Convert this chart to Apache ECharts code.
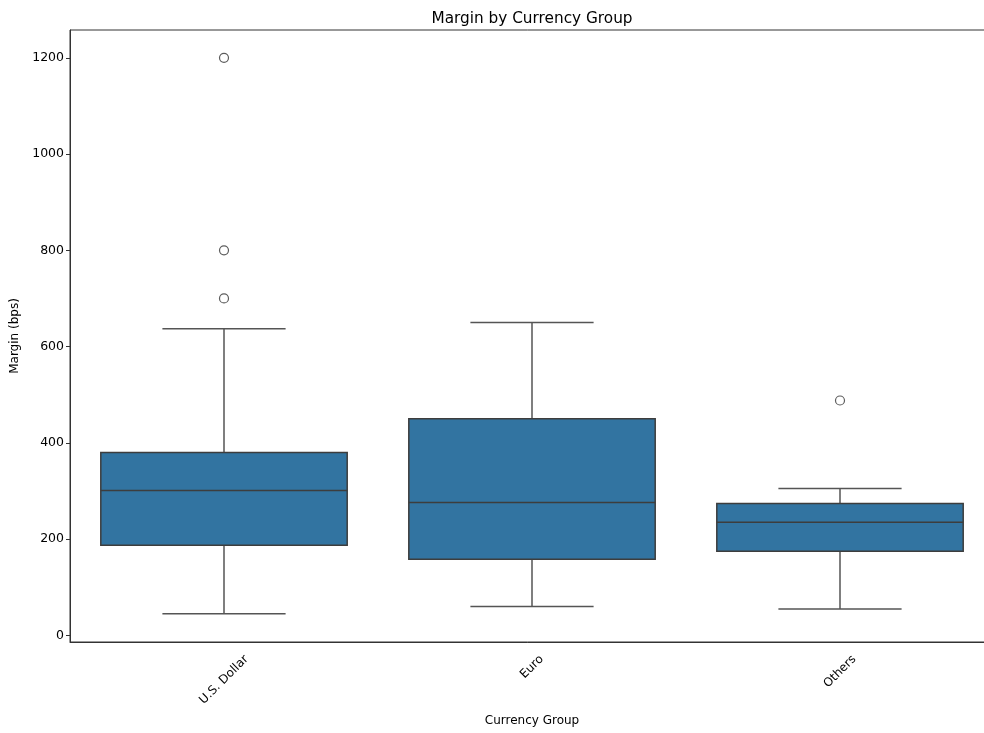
<!DOCTYPE html>
<html>
<head>
<meta charset="utf-8">
<script src="https://cdn.jsdelivr.net/npm/echarts@6/dist/echarts.min.js"></script>
<style>
html,body{margin:0;padding:0;background:#fff;}
#chart{width:984px;height:733px;}
</style>
</head>
<body>
<div id="chart"></div>
<script>
// ---- data ----
const categories = ['U.S. Dollar', 'Euro', 'Others'];
const whiskerLow = [45, 60, 55];
const q1 = [187, 158, 175];
const median = [301, 276, 235];
const q3 = [380, 450, 274];
const whiskerHigh = [637, 650, 305];
const outlierCategory = [0, 0, 0, 2];
const outlierValue = [700, 800, 1200, 488];
const yTicks = [0, 200, 400, 600, 800, 1000, 1200];

// ---- build ----
const boxData = categories.map((c, i) => [i, whiskerLow[i], q1[i], median[i], q3[i], whiskerHigh[i]]);
const outlierData = outlierCategory.map((c, i) => [c, outlierValue[i]]);

const FONT = 'DejaVu Sans';
const labelFontSize = 12;
const ctx = document.createElement('canvas').getContext('2d');
ctx.font = labelFontSize + 'px "' + FONT + '"';
const widths = categories.map(c => ctx.measureText(c).width);
const minW = Math.min.apply(null, widths);
const rich = {};
categories.forEach((c, i) => {
  const d = 0.3536 * (widths[i] - minW); // vertical shift needed
  const p = 1.4142 * d;
  rich['l' + i] = {
    fontFamily: FONT, fontSize: labelFontSize, color: '#000',
    padding: [p, p, 0, 0]
  };
});

const chart = echarts.init(document.getElementById('chart'), null, {renderer: 'canvas'});

function renderBox(params, api) {
  const x = api.value(0);
  const lo = api.coord([x, api.value(1)]);
  const b1 = api.coord([x, api.value(2)]);
  const med = api.coord([x, api.value(3)]);
  const b3 = api.coord([x, api.value(4)]);
  const hi = api.coord([x, api.value(5)]);
  const band = api.size([1, 0])[0];
  const bw = band * 0.8;
  const cw = band * 0.4;
  const cx = lo[0];
  const lineColor = '#555555';
  const lw = 1.5;
  return {
    type: 'group',
    children: [
      {type: 'line', shape: {x1: cx, y1: b1[1], x2: cx, y2: lo[1]}, style: {stroke: lineColor, lineWidth: lw}},
      {type: 'line', shape: {x1: cx, y1: b3[1], x2: cx, y2: hi[1]}, style: {stroke: lineColor, lineWidth: lw}},
      {type: 'line', shape: {x1: cx - cw / 2, y1: lo[1], x2: cx + cw / 2, y2: lo[1]}, style: {stroke: lineColor, lineWidth: lw}},
      {type: 'line', shape: {x1: cx - cw / 2, y1: hi[1], x2: cx + cw / 2, y2: hi[1]}, style: {stroke: lineColor, lineWidth: lw}},
      {type: 'rect', shape: {x: cx - bw / 2, y: b3[1], width: bw, height: b1[1] - b3[1]},
        style: {fill: '#3274a1', stroke: '#3d3d3d', lineWidth: lw}},
      {type: 'line', shape: {x1: cx - bw / 2, y1: med[1], x2: cx + bw / 2, y2: med[1]}, style: {stroke: '#3d3d3d', lineWidth: lw}}
    ]
  };
}

const option = {
  backgroundColor: '#fff',
  animation: false,
  title: {
    text: 'Margin by Currency Group',
    left: 527, top: 7, textAlign: 'center',
    textStyle: {fontFamily: FONT, fontSize: 15.3, fontWeight: 'normal', color: '#000'}
  },
  grid: {left: 70, top: 30, right: -10, bottom: 91, outerBoundsMode: 'none', containLabel: false,
    show: true, borderColor: '#333', borderWidth: 1, backgroundColor: 'transparent'},
  xAxis: {
    type: 'category',
    data: categories,
    name: 'Currency Group',
    nameLocation: 'middle',
    nameGap: 73,
    nameTextStyle: {fontFamily: FONT, fontSize: 12, color: '#000'},
    axisLine: {onZero: false, lineStyle: {color: '#333', width: 1}},
    axisTick: {alignWithLabel: true, length: 4, lineStyle: {color: '#333'}},
    splitLine: {show: false},
    axisLabel: {
      rotate: 45, interval: 0, align: 'center', verticalAlign: 'middle',
      margin: 25,
      fontFamily: FONT, fontSize: labelFontSize, color: '#000',
      formatter: function (v) {
        const i = categories.indexOf(v);
        return '{l' + i + '|' + v + '}';
      },
      rich: rich
    }
  },
  yAxis: {
    type: 'value',
    min: -13.8, max: 1257.8,
    name: 'Margin (bps)',
    nameLocation: 'middle',
    nameGap: 47,
    nameTextStyle: {fontFamily: FONT, fontSize: 12, color: '#000'},
    axisLine: {show: true, onZero: false, lineStyle: {color: '#333', width: 1}},
    axisTick: {show: true, length: 4, lineStyle: {color: '#333'}, customValues: yTicks},
    axisLabel: {fontFamily: FONT, fontSize: 12.5, color: '#000', margin: 6, customValues: yTicks,
      formatter: function (v) { return String(v); }},
    splitLine: {show: false}
  },
  series: [
    {
      type: 'custom',
      renderItem: renderBox,
      data: boxData,
      encode: {x: 0, y: [1, 2, 3, 4, 5]},
      z: 2
    },
    {
      type: 'scatter',
      data: outlierData,
      symbol: 'circle',
      symbolSize: 9,
      itemStyle: {color: '#fff', borderColor: '#333', borderWidth: 1.2},
      z: 3
    }
  ]
};
chart.setOption(option);
</script>
</body>
</html>
